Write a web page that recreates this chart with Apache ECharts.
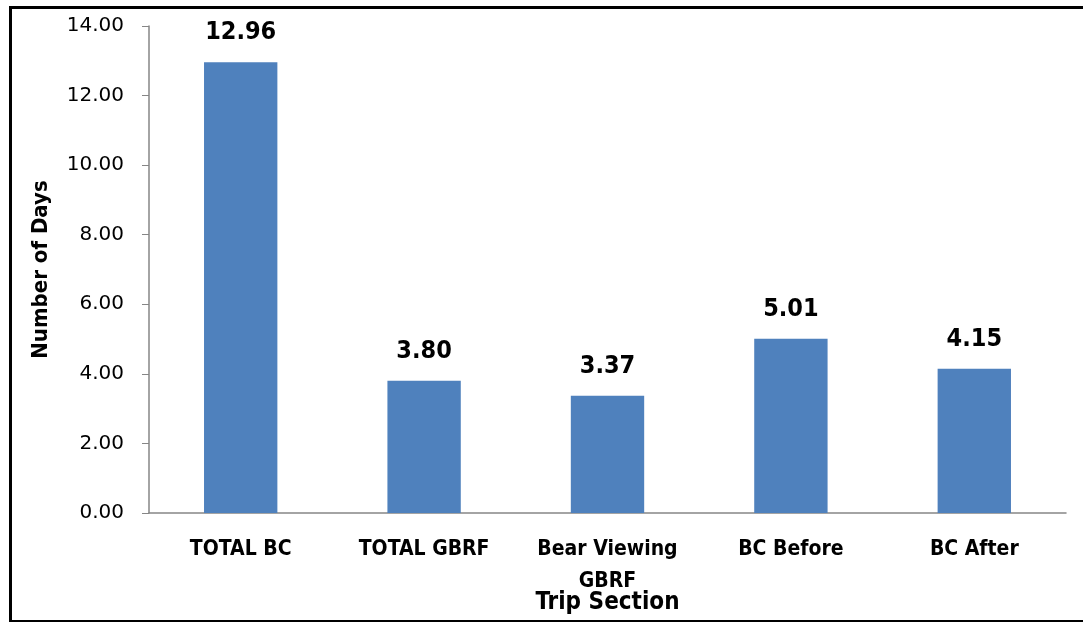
<!DOCTYPE html>
<html><head><meta charset="utf-8">
<script src="https://cdn.jsdelivr.net/npm/echarts@6/dist/echarts.min.js"></script>
<style>html,body{margin:0;padding:0;background:#fff}#c{width:1083px;height:622px}</style>
</head><body><div id="c"></div>
<script>
var categories = ['TOTAL BC', 'TOTAL GBRF', 'Bear Viewing\nGBRF', 'BC Before', 'BC After'];
var values = [12.96, 3.80, 3.37, 5.01, 4.15];
var yTicks = [0, 2, 4, 6, 8, 10, 12, 14];

var chart = echarts.init(document.getElementById('c'));
var narrow = '"Liberation Sans Narrow", "DejaVu Sans Condensed", "Roboto Condensed", sans-serif';
chart.setOption({
  animation: false,
  graphic: [{
    type: 'rect', left: 8, top: 5, shape: {width: 1090, height: 614},
    style: {fill: 'none', stroke: '#000', lineWidth: 3}
  }],
  grid: {left: 149, right: 17, top: 26, bottom: 109, containLabel: false, outerBoundsMode: 'none'},
  xAxis: {
    type: 'category', data: categories,
    name: 'Trip Section', nameLocation: 'middle', nameGap: 78, nameMoveOverlap: false,
    nameTextStyle: {fontFamily: narrow, fontWeight: 'bold', fontSize: 24, color: '#000'},
    axisLine: {lineStyle: {color: '#868686', width: 1.5}},
    axisTick: {show: false},
    axisLabel: {fontFamily: narrow, fontWeight: 'bold', fontSize: 21, color: '#000', margin: 21, lineHeight: 32, interval: 0}
  },
  yAxis: {
    type: 'value', min: yTicks[0], max: yTicks[yTicks.length - 1], interval: 2,
    name: 'Number of Days', nameLocation: 'middle', nameGap: 97, nameMoveOverlap: false,
    nameTextStyle: {fontFamily: narrow, fontWeight: 'bold', fontSize: 22, color: '#000'},
    axisLine: {show: true, lineStyle: {color: '#868686', width: 1.5}},
    axisTick: {show: true, length: 7, lineStyle: {color: '#868686'}},
    splitLine: {show: false},
    axisLabel: {fontFamily: '"DejaVu Sans", sans-serif', fontSize: 20, color: '#000', margin: 25,
      formatter: function (v) { return v.toFixed(2); }}
  },
  series: [{
    type: 'bar', data: values, barWidth: '40%',
    itemStyle: {color: '#4F81BD'},
    label: {show: true, position: 'top', distance: 17, fontFamily: narrow, fontWeight: 'bold', fontSize: 25, color: '#000',
      formatter: function (p) { return p.value.toFixed(2); }}
  }]
});
</script></body></html>
